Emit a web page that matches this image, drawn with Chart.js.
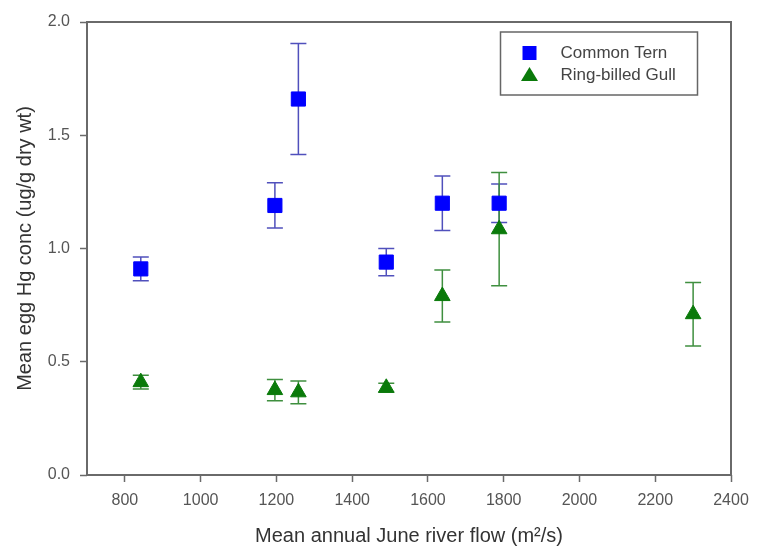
<!DOCTYPE html>
<html>
<head>
<meta charset="utf-8">
<title>Egg Hg vs river flow</title>
<script src="https://cdn.jsdelivr.net/npm/chart.js@4.4.1/dist/chart.umd.min.js"></script>
<style>
  html, body { margin: 0; padding: 0; background: #fff; }
  #wrap { width: 758px; height: 549px; }
</style>
</head>
<body>
<div id="wrap"><canvas id="hgChart" width="758" height="549"></canvas></div>
<script>
// ── Data ──
const flowTern = [842, 1196, 1258, 1490, 1638, 1788];
const hgTern   = [0.91, 1.19, 1.66, 0.94, 1.20, 1.20];
const errTern  = [0.052, 0.10, 0.245, 0.06, 0.12, 0.085];

const flowGull = [842, 1196, 1258, 1490, 1638, 1788, 2300];
const hgGull   = [0.41, 0.375, 0.365, 0.385, 0.79, 1.085, 0.71];
const errGull  = [0.03, 0.047, 0.05, 0.02, 0.115, 0.25, 0.14];

const xTickValues = [800, 1000, 1200, 1400, 1600, 1800, 2000, 2200, 2400];
const yTickValues = [0.0, 0.5, 1.0, 1.5, 2.0];

// ── Colors ──
const colors = {
  tern: '#0000ff',
  ternErr: '#5050bc',
  gull: '#0a7a0a',
  gullErr: '#3f8f3f',
  axis: '#6a6a6a',
  tick: '#555555',
  title: '#333333',
};
const FONT = "'Liberation Sans', Arial, sans-serif";

const toPoints = (xs, ys, es) => xs.map((x, i) => ({ x, y: ys[i], err: es[i] }));

// ── Error bars, drawn behind the markers ──
const errorBars = {
  id: 'errorBars',
  beforeDatasetsDraw(chart) {
    const { ctx, scales: { x, y } } = chart;
    ctx.save();
    chart.data.datasets.forEach((ds) => {
      ctx.strokeStyle = ds.errColor;
      ctx.lineWidth = 1.5;
      ds.data.forEach((p) => {
        const px = x.getPixelForValue(p.x);
        const top = y.getPixelForValue(p.y + p.err);
        const bot = y.getPixelForValue(p.y - p.err);
        ctx.beginPath();
        ctx.moveTo(px, top); ctx.lineTo(px, bot);
        ctx.moveTo(px - 8, top); ctx.lineTo(px + 8, top);
        ctx.moveTo(px - 8, bot); ctx.lineTo(px + 8, bot);
        ctx.stroke();
      });
    });
    ctx.restore();
  }
};

// ── Plot frame + boxed legend ──
const frameAndLegend = {
  id: 'frameAndLegend',
  afterDraw(chart) {
    const { ctx, chartArea: a } = chart;
    ctx.save();
    ctx.strokeStyle = colors.axis;
    ctx.lineWidth = 2;
    ctx.strokeRect(a.left, a.top, a.right - a.left, a.bottom - a.top);

    // legend box
    const bx = 500.5, by = 32, bw = 197, bh = 63;
    ctx.lineWidth = 1.5;
    ctx.strokeStyle = '#666';
    ctx.strokeRect(bx, by, bw, bh);

    ctx.font = '17px ' + FONT;
    ctx.textBaseline = 'middle';
    chart.data.datasets.forEach((ds, i) => {
      const cy = by + 21 + i * 22;
      const cx = bx + 29;
      ctx.fillStyle = ds.backgroundColor;
      ctx.beginPath();
      if (ds.pointStyle === 'rect') {
        ctx.rect(cx - 7, cy - 7, 14, 14);
      } else {
        ctx.moveTo(cx, cy - 8);
        ctx.lineTo(cx + 8.5, cy + 6);
        ctx.lineTo(cx - 8.5, cy + 6);
        ctx.closePath();
      }
      ctx.fill();
      ctx.fillStyle = '#444';
      ctx.fillText(ds.label, bx + 60, cy);
    });
    ctx.restore();
  }
};

new Chart(document.getElementById('hgChart'), {
  type: 'scatter',
  data: {
    datasets: [
      {
        label: 'Common Tern',
        data: toPoints(flowTern, hgTern, errTern),
        pointStyle: 'rect',
        pointRadius: 10,
        pointHoverRadius: 10,
        backgroundColor: colors.tern,
        borderColor: colors.tern,
        borderWidth: 1,
        errColor: colors.ternErr,
      },
      {
        label: 'Ring-billed Gull',
        data: toPoints(flowGull, hgGull, errGull),
        pointStyle: 'triangle',
        pointRadius: 9,
        pointHoverRadius: 9,
        backgroundColor: colors.gull,
        borderColor: colors.gull,
        borderWidth: 1,
        errColor: colors.gullErr,
      }
    ]
  },
  options: {
    responsive: false,
    animation: false,
    layout: { padding: { left: 0, top: 22, right: 27, bottom: 0 } },
    plugins: {
      legend: { display: false },
      tooltip: { enabled: false },
    },
    scales: {
      x: {
        type: 'linear',
        min: 700,
        max: 2400,
        afterBuildTicks: (scale) => { scale.ticks = xTickValues.map(v => ({ value: v })); },
        afterFit: (scale) => { scale.height = 74; },
        grid: { drawOnChartArea: false, drawTicks: true, tickLength: 7, tickWidth: 1.5, tickColor: colors.axis },
        border: { display: false },
        ticks: {
          color: colors.tick,
          font: { family: FONT, size: 16 },
          padding: 9,
          maxRotation: 0,
          callback: (v) => String(v),
        },
        title: {
          display: true,
          text: 'Mean annual June river flow (m²/s)',
          color: colors.title,
          font: { family: FONT, size: 20 },
          padding: { top: 0, bottom: 1 },
        },
      },
      y: {
        min: 0,
        max: 2,
        afterBuildTicks: (scale) => { scale.ticks = yTickValues.map(v => ({ value: v })); },
        afterFit: (scale) => { scale.width = 87; },
        grid: { drawOnChartArea: false, drawTicks: true, tickLength: 7, tickWidth: 1.5, tickColor: colors.axis },
        border: { display: false },
        ticks: {
          color: colors.tick,
          font: { family: FONT, size: 16 },
          padding: 10,
          callback: (v) => v.toFixed(1),
        },
        title: {
          display: true,
          text: 'Mean egg Hg conc (ug/g dry wt)',
          color: colors.title,
          font: { family: FONT, size: 20 },
          padding: { top: 13, bottom: 0 },
        },
      }
    }
  },
  plugins: [errorBars, frameAndLegend]
});
</script>
</body>
</html>
